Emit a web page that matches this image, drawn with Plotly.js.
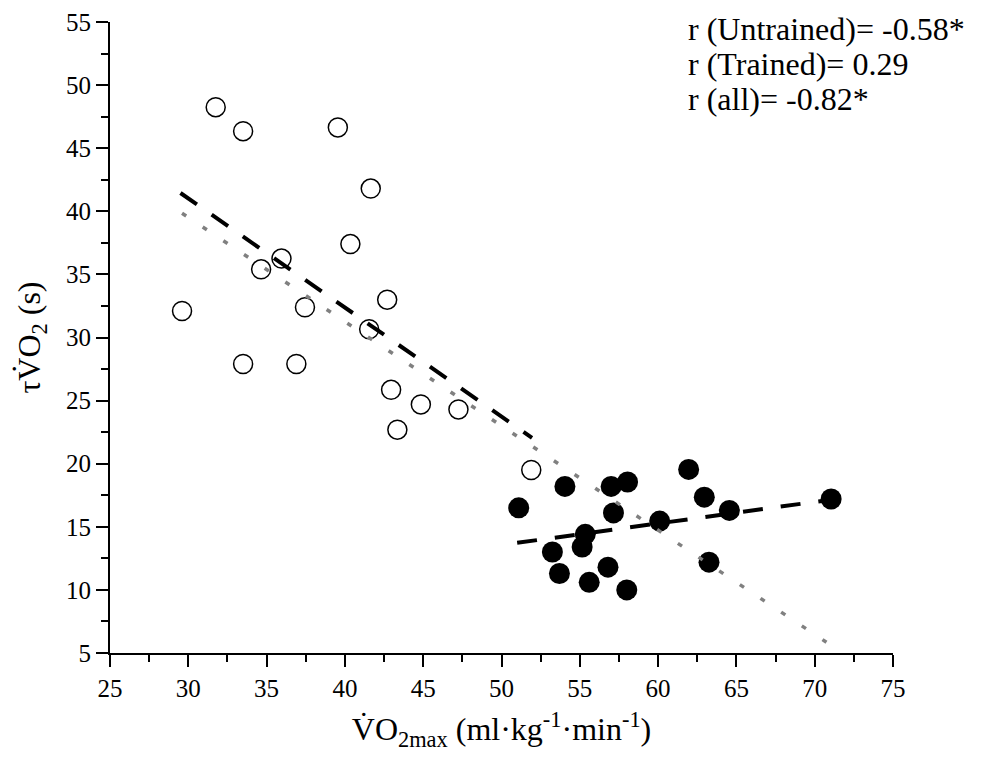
<!DOCTYPE html>
<html>
<head>
<meta charset="utf-8">
<script src="https://cdn.plot.ly/plotly-3.0.1.min.js"></script>
<style>html,body{margin:0;padding:0;background:#fff;}#chart{width:984px;height:759px;}</style>
</head>
<body>
<div id="chart"></div>
<script>
// Untrained group (open circles)
const untrainedX = [29.6, 31.75, 33.5, 33.5, 34.65, 35.95, 37.45, 36.9, 39.55, 41.65, 40.35, 41.55, 42.7, 42.95, 44.85, 43.35, 47.25, 51.9];
const untrainedY = [32.1, 48.25, 46.35, 27.9, 35.4, 36.25, 32.4, 27.9, 46.65, 41.8, 37.4, 30.65, 33.0, 25.85, 24.7, 22.7, 24.3, 19.5];
// Trained group (filled circles)
const trainedX = [51.1, 54.05, 57.0, 58.05, 57.15, 61.95, 62.95, 64.55, 71.05, 60.1, 55.35, 55.15, 53.25, 53.7, 56.8, 55.6, 58.0, 63.25];
const trainedY = [16.5, 18.2, 18.2, 18.55, 16.1, 19.55, 17.35, 16.3, 17.2, 15.45, 14.4, 13.4, 13.0, 11.3, 11.8, 10.6, 10.0, 12.2];
// Regression lines (endpoints)
const untrainedFitX = [29.5, 51.95];
const untrainedFitY = [41.45, 22.05];
const trainedFitX = [51.0, 71.05];
const trainedFitY = [13.73, 17.15];
const allFitX = [29.6, 70.75];
const allFitY = [39.85, 5.85];
// Axis tick values and labels
const xTickVals = [25, 30, 35, 40, 45, 50, 55, 60, 65, 70, 75];
const yTickVals = [5, 10, 15, 20, 25, 30, 35, 40, 45, 50, 55];
// Correlation labels
const corrLabels = ["r (Untrained)= -0.58*", "r (Trained)= 0.29", "r (all)= -0.82*"];

const FONT = "Liberation Serif, Times New Roman, serif";

const traces = [
  {x: untrainedX, y: untrainedY, type: 'scatter', mode: 'markers',
   marker: {symbol: 'circle', size: 19, color: '#ffffff', line: {color: '#000', width: 1.5}}},
  {x: trainedX, y: trainedY, type: 'scatter', mode: 'markers',
   marker: {symbol: 'circle', size: 21, color: '#000', line: {color: '#000', width: 0}}},
  {x: allFitX, y: allFitY, type: 'scatter', mode: 'lines',
   line: {color: '#808080', width: 3.5, dash: '5px,19.82px'}},
  {x: untrainedFitX, y: untrainedFitY, type: 'scatter', mode: 'lines',
   line: {color: '#000', width: 4, dash: '20px,18px'}},
  {x: trainedFitX, y: trainedFitY, type: 'scatter', mode: 'lines',
   line: {color: '#000', width: 4, dash: '20px,18px'}}
];

const annY = [0.989, 0.933, 0.878];
const annotations = corrLabels.map((t, i) => ({
  text: t, xref: 'paper', yref: 'paper', x: 0.736, y: annY[i],
  xanchor: 'left', yanchor: 'middle', showarrow: false,
  font: {family: FONT, size: 32, color: '#000'}
}));

function axisCommon(vals) {
  return {
    showgrid: false, zeroline: false, showline: true, linecolor: '#000', linewidth: 2,
    ticks: 'outside', ticklen: 12, tickwidth: 2, tickcolor: '#000',
    tickmode: 'array', tickvals: vals, ticktext: vals.map(String),
    minor: {ticks: 'outside', ticklen: 7, tickwidth: 2, tickcolor: '#000', dtick: 2.5, showgrid: false},
    tickfont: {family: FONT, size: 25, color: '#000'}, automargin: false, mirror: false
  };
}

const layout = {
  width: 984, height: 759,
  margin: {l: 110, r: 91, t: 22, b: 106},
  paper_bgcolor: '#fff', plot_bgcolor: '#fff',
  showlegend: false, hovermode: false,
  font: {family: FONT, size: 25, color: '#000'},
  xaxis: Object.assign(axisCommon(xTickVals), {
    range: [25, 75],
    title: {text: 'V̇O<sub>2max</sub> (ml·kg<sup>-1</sup>·min<sup>-1</sup>)', font: {family: FONT, size: 32, color: '#000'}, standoff: 17}
  }),
  yaxis: Object.assign(axisCommon(yTickVals), {
    range: [5, 55],
    title: {text: 'τV̇O<sub>2</sub> (s)', font: {family: FONT, size: 32, color: '#000'}, standoff: 16}
  }),
  annotations: annotations
};

Plotly.newPlot('chart', traces, layout, {displayModeBar: false, staticPlot: true});
</script>
</body>
</html>
